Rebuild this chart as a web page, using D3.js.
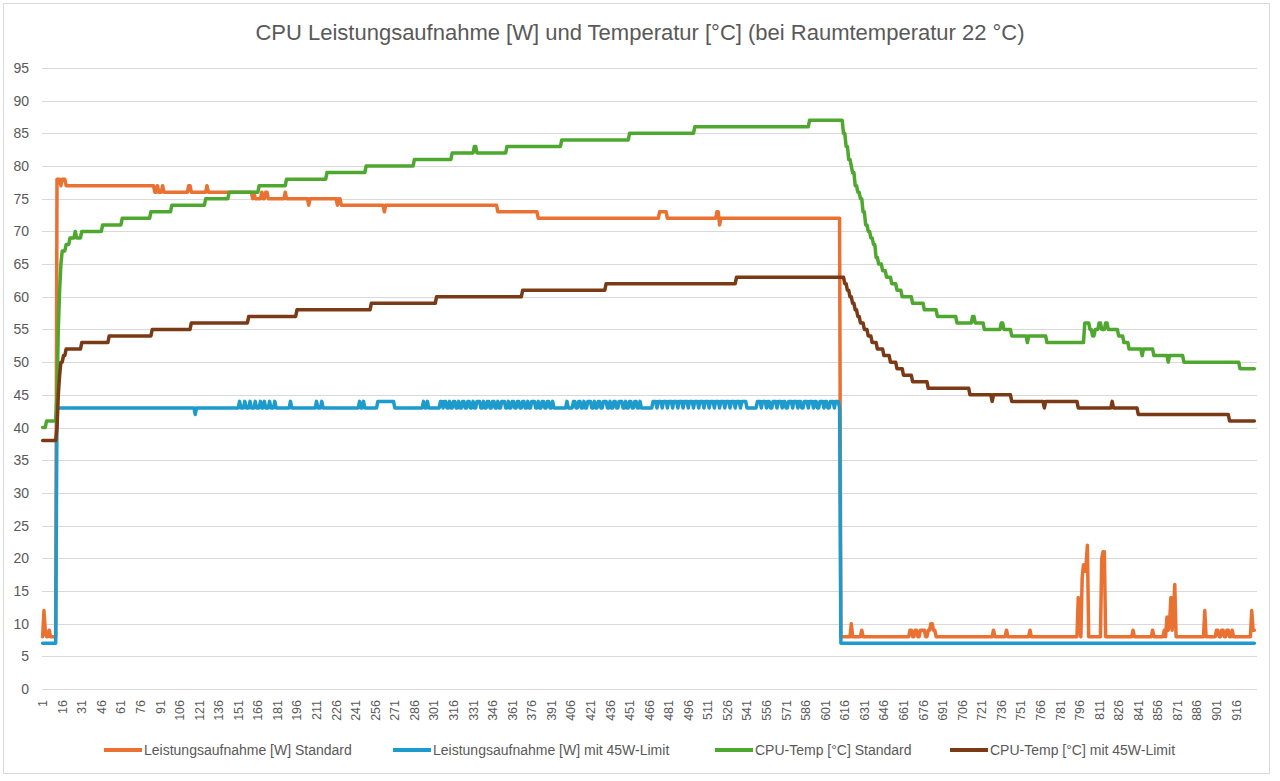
<!DOCTYPE html>
<html>
<head>
<meta charset="utf-8">
<script src="https://cdn.jsdelivr.net/npm/d3@7"></script>
<style>
  body { margin: 0; background: #fff; }
  svg { display: block; font-family: "Liberation Sans", Arial, sans-serif; }
  .grid line { stroke: #d9d9d9; stroke-width: 1; }
  .ylab, .xlab { fill: #595959; font-size: 14px; }
  .xlab { font-size: 12.5px; }
  .legend text { fill: #595959; font-size: 14px; }
</style>
</head>
<body>
<div id="chart"></div>
<script>
const title = 'CPU Leistungsaufnahme [W] und Temperatur [°C] (bei Raumtemperatur 22 °C)';
const seriesNames = [
  'Leistungsaufnahme [W] Standard',
  'Leistungsaufnahme [W] mit 45W-Limit',
  'CPU-Temp [°C] Standard',
  'CPU-Temp [°C] mit 45W-Limit'
];
const seriesColors = ['#e97132', '#1e9bcd', '#4ea72e', '#7b3a16'];
const yTicks = [0, 5, 10, 15, 20, 25, 30, 35, 40, 45, 50, 55, 60, 65, 70, 75, 80, 85, 90, 95];
const sampleCount = 930;
const xTickEvery = 15;

// step data: [sample where the value starts, value]
const powerStd = [
  [1, 8], [2, 12], [3, 9], [4, 8], [6, 9], [7, 8], [12, 78], [15, 77], [16, 78], [19, 77],
  [87, 76], [89, 77], [90, 76], [93, 77], [94, 76], [113, 77], [115, 76], [127, 77], [128, 76],
  [162, 75], [163, 76], [164, 75], [169, 76], [170, 75], [172, 76], [174, 75], [187, 76], [188, 75],
  [205, 74], [206, 75], [227, 74], [228, 75], [230, 74], [263, 73], [264, 74],
  [350, 73], [381, 72], [474, 73], [480, 72], [518, 73], [520, 71], [521, 72],
  [613, 8], [621, 10], [622, 8], [629, 9], [630, 8], [666, 9], [668, 8], [670, 9], [672, 8],
  [674, 9], [678, 8], [680, 9], [682, 10], [684, 9], [686, 8], [730, 9], [731, 8], [740, 9],
  [741, 8], [758, 9], [759, 8], [795, 14], [796, 10], [797, 8], [798, 17], [799, 19], [800, 18],
  [801, 19], [802, 22], [803, 8], [813, 20], [814, 21], [816, 8], [837, 9], [838, 8], [852, 9],
  [853, 8], [861, 9], [862, 8], [863, 11], [864, 9], [865, 10], [866, 14], [867, 9], [868, 12],
  [869, 16], [870, 8], [892, 12], [893, 8], [901, 9], [903, 8], [905, 9], [907, 8], [909, 9],
  [911, 8], [913, 9], [914, 8], [928, 12], [929, 9]
];
const powerLim = [[1, 7], [12, 43], [118, 42], [119, 43], [613, 7]];
// samples of the 45W series that sit at 44 instead of 43
const powerLimHigh = [
  [152, 152], [156, 156], [160, 160], [164, 164], [168, 168], [171, 171], [175, 175], [179, 179],
  [191, 191], [211, 211], [215, 215], [244, 244], [247, 247], [258, 270], [293, 293], [296, 296],
  [306, 307], [309, 310], [313, 313], [316, 317], [320, 320], [323, 324], [327, 328], [331, 331],
  [334, 336], [339, 339], [342, 343], [346, 347], [350, 350], [353, 355], [358, 358], [361, 362],
  [365, 366], [369, 370], [373, 373], [376, 378], [381, 381], [384, 385], [388, 389], [392, 392],
  [403, 403], [408, 409], [412, 413], [416, 416], [419, 421], [424, 424], [427, 428], [431, 433],
  [436, 436], [439, 440], [443, 445], [448, 448], [451, 452], [455, 456], [459, 459],
  [469, 471], [473, 475], [477, 479], [481, 483], [485, 487], [489, 491], [493, 495], [497, 499],
  [501, 503], [505, 507], [509, 511], [513, 515], [517, 519], [521, 523], [525, 527], [529, 531],
  [533, 535], [537, 540], [549, 551], [553, 555], [557, 558], [561, 563], [565, 567], [569, 570],
  [573, 575], [577, 579], [581, 582], [585, 587], [589, 591], [593, 594], [597, 599], [601, 602],
  [605, 607], [609, 611]
];
const tempStd = [
  [1, 40], [4, 41], [12, 45], [13, 55], [14, 61], [15, 65], [16, 67], [19, 68], [22, 69], [26, 70],
  [27, 69], [31, 70], [47, 71], [62, 72], [84, 73], [100, 74], [126, 75], [144, 76], [167, 77],
  [188, 78], [219, 79], [249, 80], [286, 81], [315, 82], [332, 83], [334, 82], [357, 83], [399, 84],
  [451, 85], [501, 86], [589, 87], [615, 85], [617, 83], [619, 81], [621, 80], [622, 79], [624, 77],
  [626, 76], [628, 75], [630, 73], [632, 71], [634, 70], [636, 69], [638, 68], [640, 66], [642, 65],
  [645, 64], [648, 63], [652, 62], [656, 61], [660, 60], [668, 59], [677, 58], [687, 57], [702, 56],
  [714, 57], [716, 56], [723, 55], [736, 56], [738, 55], [744, 54], [756, 53], [757, 54], [771, 53],
  [800, 56], [804, 55], [806, 54], [808, 55], [811, 56], [813, 55], [816, 56], [818, 55], [826, 54],
  [830, 53], [834, 52], [844, 51], [845, 52], [853, 51], [864, 50], [865, 51], [876, 50], [919, 49]
];
const tempLim = [
  [1, 38], [12, 40], [13, 45], [14, 48], [15, 50], [17, 51], [19, 52], [31, 53], [52, 54], [85, 55],
  [115, 56], [159, 57], [196, 58], [253, 59], [303, 60], [369, 61], [433, 62], [533, 63], [616, 62],
  [618, 61], [620, 60], [622, 59], [624, 58], [626, 57], [628, 56], [631, 55], [634, 54], [637, 53],
  [641, 52], [646, 51], [651, 50], [656, 49], [661, 48], [668, 47], [680, 46], [712, 45], [729, 44],
  [730, 45], [744, 44], [769, 43], [770, 44], [795, 43], [821, 44], [822, 43], [841, 42], [911, 41]
];

const categories = d3.range(1, sampleCount + 1);

// hold each step value until the next step starts
function expand(steps) {
  let j = 0;
  return categories.map(c => {
    while (j + 1 < steps.length && steps[j + 1][0] <= c) j++;
    return steps[j][1];
  });
}

const limValues = expand(powerLim);
powerLimHigh.forEach(([a, b]) => {
  for (let c = a; c <= b; c++) limValues[c - 1] = 44;
});

const allSeries = [expand(powerStd), limValues, expand(tempStd), expand(tempLim)];

const width = 1280;
const height = 781;
const plot = { left: 42, right: 1255, top: 68, bottom: 689 };

const svg = d3.select('#chart').append('svg')
  .attr('width', width)
  .attr('height', height);

svg.append('rect')
  .attr('x', 3.5).attr('y', 3.5)
  .attr('width', 1266).attr('height', 770)
  .attr('fill', '#fff')
  .attr('stroke', '#d9d9d9');

const x = d3.scalePoint()
  .domain(categories)
  .range([plot.left, plot.right])
  .padding(0.5);

const y = d3.scaleLinear()
  .domain([0, 95])
  .range([plot.bottom, plot.top]);

svg.append('text')
  .attr('x', 640)
  .attr('y', 40)
  .attr('text-anchor', 'middle')
  .attr('fill', '#595959')
  .style('font-size', '22px')
  .text(title);

svg.append('g')
  .attr('class', 'grid')
  .selectAll('line')
  .data(yTicks)
  .join('line')
  .attr('x1', plot.left)
  .attr('x2', plot.right + 2)
  .attr('y1', d => Math.round(y(d)) + 0.5)
  .attr('y2', d => Math.round(y(d)) + 0.5);

svg.append('g')
  .selectAll('text')
  .data(yTicks)
  .join('text')
  .attr('class', 'ylab')
  .attr('x', 29)
  .attr('y', d => y(d) + 5)
  .attr('text-anchor', 'end')
  .text(d => d);

const xTicks = categories.filter(c => (c - 1) % xTickEvery === 0);
svg.append('g')
  .selectAll('text')
  .data(xTicks)
  .join('text')
  .attr('class', 'xlab')
  .attr('transform', d => `translate(${x(d) + 4.5},700) rotate(-90)`)
  .attr('text-anchor', 'end')
  .text(d => d);

const line = d3.line()
  .x((d, i) => x(categories[i]))
  .y(d => y(d));

svg.append('g')
  .selectAll('path')
  .data(allSeries)
  .join('path')
  .attr('d', d => line(d))
  .attr('fill', 'none')
  .attr('stroke', (d, i) => seriesColors[i])
  .attr('stroke-width', 3.5)
  .attr('stroke-linejoin', 'round')
  .attr('stroke-linecap', 'round');

const legendX = [104, 393, 715, 950];
const legend = svg.append('g')
  .attr('class', 'legend')
  .selectAll('g')
  .data(seriesNames)
  .join('g')
  .attr('transform', (d, i) => `translate(${legendX[i]},750)`);

legend.append('line')
  .attr('x1', 0).attr('x2', 38)
  .attr('stroke', (d, i) => seriesColors[i])
  .attr('stroke-width', 4);

legend.append('text')
  .attr('x', 40)
  .attr('y', 5)
  .text(d => d);
</script>
</body>
</html>
